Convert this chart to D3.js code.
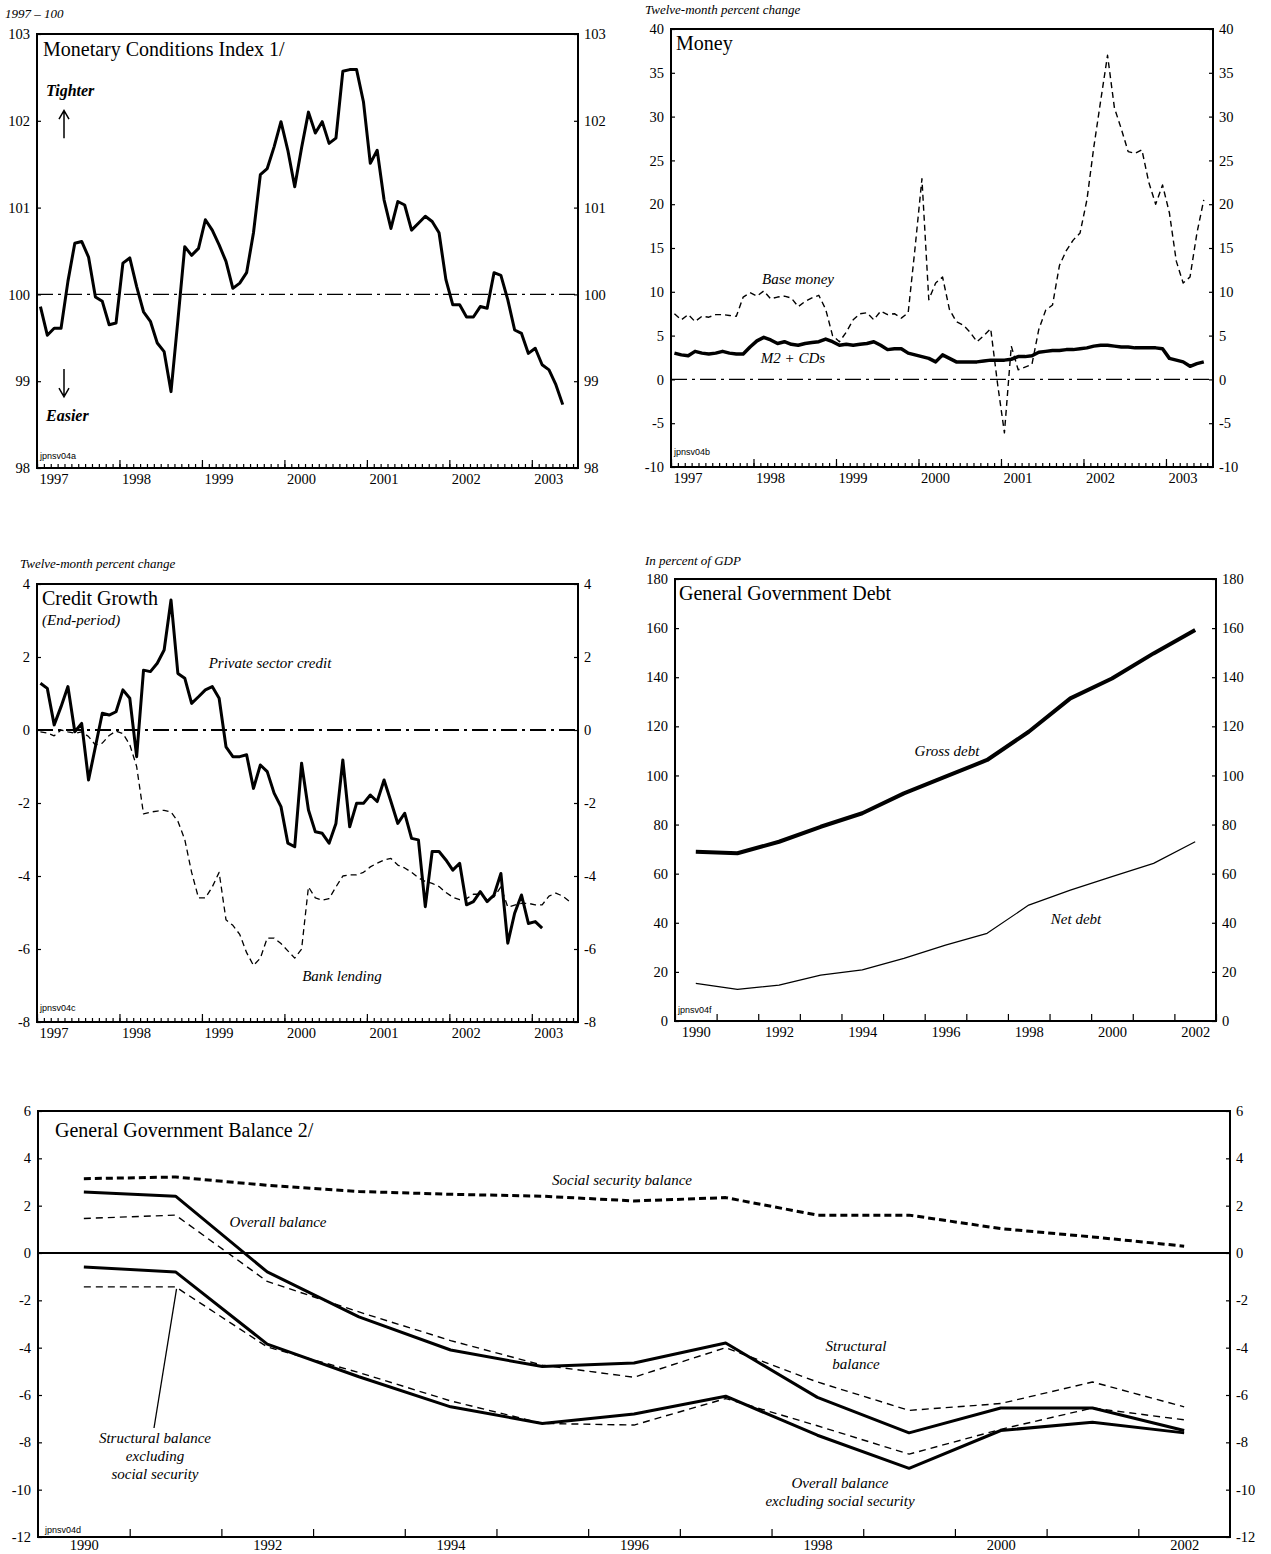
<!DOCTYPE html>
<html><head><meta charset="utf-8">
<script src="https://cdn.jsdelivr.net/npm/d3@7"></script>
<style>body{margin:0;background:#fff}</style>
</head><body><svg id="c" width="1271" height="1554" style="background:#fff"></svg>
<script>
// ---------- DATA ----------
// Monthly, starting January 1997
const mciIndex = [99.86, 99.53, 99.61, 99.61, 100.15, 100.59, 100.61, 100.43, 99.97, 99.92, 99.65, 99.67,
 100.36, 100.42, 100.09, 99.80, 99.69, 99.44, 99.34, 98.88, 99.70, 100.55, 100.45, 100.53,
 100.86, 100.74, 100.57, 100.38, 100.07, 100.13, 100.25, 100.71, 101.38, 101.45, 101.70, 101.99,
 101.66, 101.24, 101.69, 102.10, 101.86, 101.99, 101.74, 101.80, 102.57, 102.59, 102.59, 102.22,
 101.51, 101.66, 101.09, 100.76, 101.07, 101.03, 100.74, 100.82, 100.90, 100.84, 100.71, 100.17,
 99.88, 99.88, 99.74, 99.74, 99.86, 99.84, 100.25, 100.22, 99.94, 99.59, 99.55, 99.32,
 99.38, 99.19, 99.13, 98.96, 98.73];
const baseMoney = [7.5, 6.8, 7.4, 6.6, 7.2, 7.1, 7.4, 7.4, 7.3, 7.2, 9.4, 9.9,
 9.5, 10.1, 9.2, 9.4, 9.5, 9.3, 8.3, 8.9, 9.3, 9.6, 8.0, 5.0,
 4.3, 5.4, 6.8, 7.5, 7.6, 6.8, 7.8, 7.4, 7.5, 7.0, 7.6, 15.0,
 22.9, 9.1, 11.0, 11.7, 8.0, 6.6, 6.2, 5.4, 4.3, 5.0, 5.8, -0.5,
 -6.1, 3.8, 1.1, 1.4, 1.7, 5.7, 7.9, 8.5, 13.0, 14.7, 15.9, 16.7,
 20.5, 26.5, 31.8, 37.0, 31.0, 28.6, 26.0, 25.8, 26.2, 22.5, 20.0, 22.2,
 19.0, 13.5, 11.0, 11.7, 16.7, 20.5];
const m2CDs = [3.0, 2.8, 2.7, 3.2, 3.0, 2.9, 3.0, 3.2, 3.0, 2.9, 2.9, 3.7,
 4.4, 4.8, 4.5, 4.1, 4.3, 4.0, 3.9, 4.1, 4.2, 4.3, 4.6, 4.3,
 3.9, 4.0, 3.9, 4.0, 4.1, 4.3, 3.9, 3.4, 3.5, 3.5, 3.0, 2.8,
 2.6, 2.4, 2.0, 2.8, 2.4, 2.0, 2.0, 2.0, 2.0, 2.1, 2.2, 2.2,
 2.2, 2.3, 2.6, 2.6, 2.7, 3.1, 3.2, 3.3, 3.3, 3.4, 3.4, 3.5,
 3.6, 3.8, 3.9, 3.9, 3.8, 3.7, 3.7, 3.6, 3.6, 3.6, 3.6, 3.5,
 2.4, 2.2, 2.0, 1.5, 1.8, 2.0];
const privateCredit = [1.28, 1.14, 0.14, 0.64, 1.19, -0.05, 0.18, -1.37, -0.46, 0.46, 0.41, 0.50,
 1.10, 0.87, -0.73, 1.64, 1.60, 1.83, 2.19, 3.56, 1.55, 1.42, 0.73, 0.91,
 1.10, 1.19, 0.87, -0.46, -0.73, -0.73, -0.68, -1.60, -0.96, -1.14, -1.73, -2.10,
 -3.10, -3.20, -0.91, -2.19, -2.79, -2.83, -3.10, -2.56, -0.82, -2.65, -2.01, -2.01,
 -1.78, -1.96, -1.37, -1.96, -2.56, -2.28, -2.97, -3.01, -4.84, -3.33, -3.33, -3.56,
 -3.84, -3.65, -4.79, -4.70, -4.43, -4.70, -4.52, -3.93, -5.84, -5.02, -4.52, -5.30,
 -5.25, -5.43];
const bankLending = [-0.05, -0.08, -0.16, 0.0, -0.05, -0.09, -0.05, -0.18, -0.41, -0.36, -0.15, -0.03,
 -0.10, -0.40, -1.00, -2.30, -2.25, -2.22, -2.20, -2.25, -2.50, -3.00, -3.90, -4.60,
 -4.60, -4.30, -3.90, -5.20, -5.35, -5.60, -6.10, -6.45, -6.25, -5.70, -5.70, -5.85,
 -6.05, -6.25, -6.00, -4.30, -4.60, -4.66, -4.62, -4.30, -4.00, -3.97, -3.97, -3.90,
 -3.75, -3.65, -3.56, -3.52, -3.70, -3.78, -3.90, -4.05, -4.15, -4.20, -4.29, -4.45,
 -4.58, -4.65, -4.62, -4.50, -4.50, -4.65, -4.57, -4.30, -4.85, -4.80, -4.75, -4.75,
 -4.79, -4.79, -4.55, -4.47, -4.55, -4.70];
// Annual, 1990-2002
const debtYears = [1990, 1991, 1992, 1993, 1994, 1995, 1996, 1997, 1998, 1999, 2000, 2001, 2002];
const grossDebt = [68.9, 68.3, 73.0, 79.1, 84.6, 92.7, 99.5, 106.3, 117.8, 131.4, 139.5, 149.7, 159.2];
const netDebt = [15.3, 12.9, 14.6, 18.7, 20.8, 25.5, 30.9, 35.7, 47.2, 53.3, 58.8, 64.2, 73.0];
const balanceYears = [1990, 1991, 1992, 1993, 1994, 1995, 1996, 1997, 1998, 1999, 2000, 2001, 2002];
const overallBalance = [2.58, 2.40, -0.80, -2.70, -4.10, -4.80, -4.65, -3.80, -6.10, -7.60, -6.55, -6.55, -7.50];
const socialSecurityBalance = [3.14, 3.21, 2.86, 2.60, 2.48, 2.40, 2.20, 2.34, 1.60, 1.60, 1.03, 0.68, 0.29];
const structuralBalance = [1.46, 1.60, -1.20, -2.49, -3.70, -4.74, -5.25, -4.00, -5.45, -6.65, -6.36, -5.45, -6.50];
const overallExSS = [-0.59, -0.80, -3.85, -5.23, -6.50, -7.20, -6.80, -6.05, -7.70, -9.10, -7.50, -7.15, -7.60];
const structuralExSS = [-1.43, -1.43, -3.97, -5.05, -6.25, -7.20, -7.27, -6.15, -7.30, -8.50, -7.45, -6.55, -7.05];
// Tick labels
const mciTicks = [98, 99, 100, 101, 102, 103];
const moneyTicks = [-10, -5, 0, 5, 10, 15, 20, 25, 30, 35, 40];
const creditTicks = [-8, -6, -4, -2, 0, 2, 4];
const debtTicks = [0, 20, 40, 60, 80, 100, 120, 140, 160, 180];
const balanceTicks = [-12, -10, -8, -6, -4, -2, 0, 2, 4, 6];
const monthYearLabels = [1997, 1998, 1999, 2000, 2001, 2002, 2003];
const debtYearLabels = [1990, 1992, 1994, 1996, 1998, 2000, 2002];
const balanceYearLabels = [1990, 1992, 1994, 1996, 1998, 2000, 2002];

// ---------- HELPERS ----------
const SERIF = '"Liberation Serif","Times New Roman",serif';
const SANS = '"Liberation Sans",Arial,sans-serif';
const svg = d3.select("#c");
const fmt = d => String(d);

function frame(x, y) {
  const [x0, x1] = x.range(), [y1, y0] = y.range();
  svg.append("rect").attr("x", x0).attr("y", y0).attr("width", x1 - x0).attr("height", y1 - y0)
    .attr("fill", "none").attr("stroke", "#000").attr("stroke-width", 2);
}
function styleAxis(g, size) {
  g.attr("font-size", null).attr("font-family", null);
  g.select(".domain").remove();
  g.selectAll("line").attr("stroke", "#000").attr("stroke-width", 1.2);
  g.selectAll("text").attr("font-family", SERIF).attr("font-size", size || 14.5).attr("fill", "#000");
}
function yAxes(x, y, ticks) {
  const [x0, x1] = x.range();
  svg.append("g").attr("transform", `translate(${x0},0)`)
    .call(d3.axisLeft(y).tickValues(ticks).tickSize(-4).tickPadding(7).tickFormat(fmt)).call(styleAxis);
  svg.append("g").attr("transform", `translate(${x1},0)`)
    .call(d3.axisRight(y).tickValues(ticks).tickSize(-4).tickPadding(6).tickFormat(fmt)).call(styleAxis);
}
function monthAxis(x, y, years) {
  const yb = y.range()[0];
  const start = x.domain()[0], end = x.domain()[1];
  const months = d3.range(0, Math.floor((end - start) * 12) + 1).map(m => start + m / 12);
  svg.append("g").attr("transform", `translate(0,${yb})`)
    .call(d3.axisBottom(x).tickValues(months).tickSize(-4).tickFormat("")).call(styleAxis);
  const g = svg.append("g").attr("transform", `translate(0,${yb})`)
    .call(d3.axisBottom(x).tickValues(years).tickSize(-8).tickPadding(6).tickFormat(fmt)).call(styleAxis);
  g.selectAll("text").attr("text-anchor", "start").attr("x", 2);
}
function refLine(x, y, v, dash, w) {
  const [x0, x1] = x.range();
  svg.append("line").attr("x1", x0).attr("x2", x1).attr("y1", y(v)).attr("y2", y(v))
    .attr("stroke", "#000").attr("stroke-width", w).attr("stroke-dasharray", dash);
}
function series(data, xf, y, w, dash) {
  svg.append("path").datum(data)
    .attr("d", d3.line().x((d, i) => xf(i)).y(d => y(d)))
    .attr("fill", "none").attr("stroke", "#000").attr("stroke-width", w)
    .attr("stroke-linejoin", "round").attr("stroke-linecap", "butt")
    .attr("stroke-dasharray", dash || null);
}
function label(x, y, txt, opts = {}) {
  svg.append("text").attr("x", x).attr("y", y).text(txt)
    .attr("font-family", opts.sans ? SANS : SERIF)
    .attr("font-size", opts.size || 15)
    .attr("font-style", opts.italic ? "italic" : "normal")
    .attr("font-weight", opts.bold ? "bold" : "normal")
    .attr("text-anchor", opts.anchor || "start").attr("fill", "#000");
}

// ---------- PANEL 1: MCI ----------
{
  const x = d3.scaleLinear().domain([1997, 2003.56]).range([37, 578]);
  const y = d3.scaleLinear().domain([98, 103]).range([468, 34]);
  frame(x, y);
  yAxes(x, y, mciTicks);
  monthAxis(x, y, monthYearLabels);
  refLine(x, y, 100, "16,5,3,5", 1.4);
  series(mciIndex, i => x(1997 + (i + 0.5) / 12), y, 3);
  label(5, 18, "1997 – 100", {italic: true, size: 13});
  label(x(1997) + 6, y(103) + 22, "Monetary Conditions Index 1/", {size: 20});
  label(x(1997) + 9, y(102.1) - 16, "Tighter", {italic: true, bold: true, size: 16});
  label(x(1997) + 9, y(98.6) + 5, "Easier", {italic: true, bold: true, size: 16});
  const ax = x(1997) + 27;
  svg.append("path").attr("d", `M${ax},${y(101.8)}V${y(102.1)}M${ax - 5},${y(102.02)}L${ax},${y(102.12)}L${ax + 5},${y(102.02)}`)
    .attr("fill", "none").attr("stroke", "#000").attr("stroke-width", 1.5);
  svg.append("path").attr("d", `M${ax},${y(99.14)}V${y(98.84)}M${ax - 5},${y(98.92)}L${ax},${y(98.82)}L${ax + 5},${y(98.92)}`)
    .attr("fill", "none").attr("stroke", "#000").attr("stroke-width", 1.5);
  label(x(1997) + 3, y(98) - 9, "jpnsv04a", {sans: true, size: 9});
}

// ---------- PANEL 2: MONEY ----------
{
  const x = d3.scaleLinear().domain([1997, 2003.57]).range([671, 1213]);
  const y = d3.scaleLinear().domain([-10, 40]).range([467, 29]);
  frame(x, y);
  yAxes(x, y, moneyTicks);
  monthAxis(x, y, monthYearLabels);
  refLine(x, y, 0, "16,5,3,5", 1.4);
  series(baseMoney, i => x(1997 + (i + 0.5) / 12), y, 1.4, "6,4");
  series(m2CDs, i => x(1997 + (i + 0.5) / 12), y, 3.5);
  label(645, 14, "Twelve-month percent change", {italic: true, size: 13});
  label(x(1997) + 5, y(40) + 21, "Money", {size: 20});
  label(798, 284, "Base money", {italic: true, size: 15, anchor: "middle"});
  label(793, 363, "M2 + CDs", {italic: true, size: 15, anchor: "middle"});
  label(x(1997) + 3, y(-10) - 12, "jpnsv04b", {sans: true, size: 9});
}

// ---------- PANEL 3: CREDIT GROWTH ----------
{
  const x = d3.scaleLinear().domain([1997, 2003.56]).range([37, 578]);
  const y = d3.scaleLinear().domain([-8, 4]).range([1022, 584]);
  frame(x, y);
  yAxes(x, y, creditTicks);
  monthAxis(x, y, monthYearLabels);
  refLine(x, y, 0, "16,5,3,5", 2);
  series(bankLending, i => x(1997 + (i + 0.5) / 12), y, 1.3, "6,4");
  series(privateCredit, i => x(1997 + (i + 0.5) / 12), y, 3);
  label(20, 568, "Twelve-month percent change", {italic: true, size: 13});
  label(x(1997) + 5, y(4) + 21, "Credit Growth", {size: 20});
  label(x(1997) + 5, y(4) + 41, "(End-period)", {italic: true, size: 15});
  label(270, 668, "Private sector credit", {italic: true, size: 15, anchor: "middle"});
  label(342, 981, "Bank lending", {italic: true, size: 15, anchor: "middle"});
  label(x(1997) + 3, y(-8) - 11, "jpnsv04c", {sans: true, size: 9});
}

// ---------- PANEL 4: DEBT ----------
{
  const x = d3.scaleLinear().domain([1990, 2003]).range([675, 1216]);
  const y = d3.scaleLinear().domain([0, 180]).range([1021, 579]);
  frame(x, y);
  yAxes(x, y, debtTicks);
  svg.append("g").attr("transform", `translate(0,${y(0)})`)
    .call(d3.axisBottom(x).tickValues(d3.range(1990, 2004)).tickSize(-7).tickFormat("")).call(styleAxis);
  svg.append("g").attr("transform", `translate(0,${y(0)})`)
    .call(d3.axisBottom(x).tickValues(debtYearLabels.map(d => d + 0.5)).tickSize(0).tickPadding(6)
      .tickFormat(d => String(Math.floor(d)))).call(styleAxis);
  series(grossDebt, i => x(debtYears[i] + 0.5), y, 4);
  series(netDebt, i => x(debtYears[i] + 0.5), y, 1.2);
  label(645, 565, "In percent of GDP", {italic: true, size: 13});
  label(x(1990) + 4, y(180) + 21, "General Government Debt", {size: 20});
  label(947, 756, "Gross debt", {italic: true, size: 15, anchor: "middle"});
  label(1076, 924, "Net debt", {italic: true, size: 15, anchor: "middle"});
  label(x(1990) + 3, y(0) - 8, "jpnsv04f", {sans: true, size: 9});
}

// ---------- PANEL 5: BALANCE ----------
{
  const x = d3.scaleLinear().domain([1989.5, 2002.5]).range([38, 1230]);
  const y = d3.scaleLinear().domain([-12, 6]).range([1537, 1111]);
  frame(x, y);
  yAxes(x, y, balanceTicks);
  svg.append("g").attr("transform", `translate(0,${y(-12)})`)
    .call(d3.axisBottom(x).tickValues(d3.range(1990.5, 2002, 1)).tickSize(-8).tickFormat("")).call(styleAxis);
  svg.append("g").attr("transform", `translate(0,${y(-12)})`)
    .call(d3.axisBottom(x).tickValues(balanceYearLabels).tickSize(0).tickPadding(3).tickFormat(fmt))
    .call(g => styleAxis(g, 14.5));
  refLine(x, y, 0, null, 2);
  const xf = i => x(balanceYears[i]);
  series(socialSecurityBalance, xf, y, 3, "7,4");
  series(structuralBalance, xf, y, 1.4, "7,5");
  series(structuralExSS, xf, y, 1.4, "7,5");
  series(overallBalance, xf, y, 3);
  series(overallExSS, xf, y, 3);
  label(x(1989.5) + 17, y(6) + 26, "General Government Balance 2/", {size: 20});
  label(622, 1185, "Social security balance", {italic: true, size: 15, anchor: "middle"});
  label(278, 1227, "Overall balance", {italic: true, size: 15, anchor: "middle"});
  label(856, 1351, "Structural", {italic: true, size: 15, anchor: "middle"});
  label(856, 1369, "balance", {italic: true, size: 15, anchor: "middle"});
  label(155, 1443, "Structural balance", {italic: true, size: 15, anchor: "middle"});
  label(155, 1461, "excluding", {italic: true, size: 15, anchor: "middle"});
  label(155, 1479, "social security", {italic: true, size: 15, anchor: "middle"});
  label(840, 1488, "Overall balance", {italic: true, size: 15, anchor: "middle"});
  label(840, 1506, "excluding social security", {italic: true, size: 15, anchor: "middle"});
  svg.append("line").attr("x1", 154).attr("y1", 1428).attr("x2", x(1991) + 1).attr("y2", y(structuralExSS[1]) + 2)
    .attr("stroke", "#000").attr("stroke-width", 1.3);
  label(x(1989.5) + 7, y(-12) - 4, "jpnsv04d", {sans: true, size: 9});
}
</script></body></html>
